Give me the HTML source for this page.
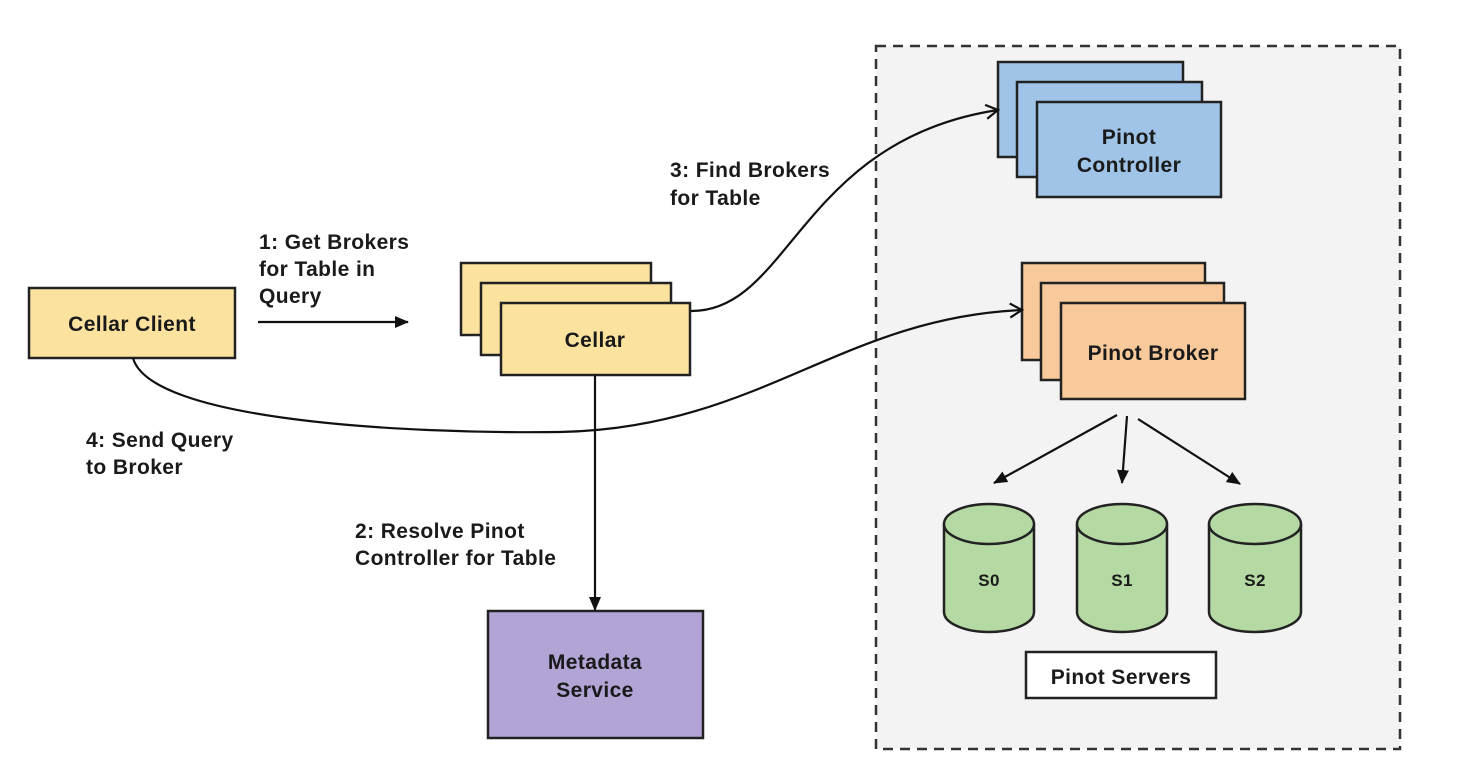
<!DOCTYPE html>
<html><head><meta charset="utf-8"><style>
body{margin:0;background:#fff;}
svg{display:block;}
text{font-family:"Liberation Sans",sans-serif;font-weight:bold;font-size:21px;letter-spacing:0.4px;fill:#1a1a1a;}
</style></head><body>
<svg width="1472" height="780" viewBox="0 0 1472 780" xmlns="http://www.w3.org/2000/svg">
<defs>
<marker id="a" markerWidth="14" markerHeight="12" refX="13" refY="6" orient="auto" markerUnits="userSpaceOnUse"><path d="M0,0 L14,6 L0,12 Z" fill="#111"/></marker>
<marker id="o" markerWidth="16" markerHeight="16" refX="14" refY="8" orient="auto" markerUnits="userSpaceOnUse"><path d="M2,1 L14,8 L2,15" fill="none" stroke="#111" stroke-width="2.2"/></marker>
</defs>
<rect x="876" y="46" width="524" height="703" fill="#f3f3f3" stroke="#333" stroke-width="2.5" stroke-dasharray="10,7"/>
<rect x="29" y="288" width="206" height="70" fill="#fbe29e" stroke="#222" stroke-width="2.5"/>
<text x="132" y="331" text-anchor="middle">Cellar Client</text>
<rect x="461" y="263" width="190" height="72" fill="#fbe29e" stroke="#222" stroke-width="2.5"/>
<rect x="481" y="283" width="190" height="72" fill="#fbe29e" stroke="#222" stroke-width="2.5"/>
<rect x="501" y="303" width="189" height="72" fill="#fbe29e" stroke="#222" stroke-width="2.5"/>
<text x="595" y="347" text-anchor="middle">Cellar</text>
<rect x="998" y="62" width="185" height="95" fill="#a0c4e8" stroke="#222" stroke-width="2.5"/>
<rect x="1017" y="82" width="185" height="95" fill="#a0c4e8" stroke="#222" stroke-width="2.5"/>
<rect x="1037" y="102" width="184" height="95" fill="#a0c4e8" stroke="#222" stroke-width="2.5"/>
<text x="1129" y="144" text-anchor="middle">Pinot</text>
<text x="1129" y="172" text-anchor="middle">Controller</text>
<rect x="1022" y="263" width="183" height="97" fill="#f8c99a" stroke="#222" stroke-width="2.5"/>
<rect x="1041" y="283" width="183" height="97" fill="#f8c99a" stroke="#222" stroke-width="2.5"/>
<rect x="1061" y="303" width="184" height="96" fill="#f8c99a" stroke="#222" stroke-width="2.5"/>
<text x="1153" y="360" text-anchor="middle">Pinot Broker</text>
<rect x="488" y="611" width="215" height="127" fill="#b3a4d6" stroke="#222" stroke-width="2.5"/>
<text x="595" y="669" text-anchor="middle">Metadata</text>
<text x="595" y="697" text-anchor="middle">Service</text>
<g stroke="#222" stroke-width="2.5" fill="#b4d9a3">
<path d="M944,524 L944,612 A45,20 0 0 0 1034,612 L1034,524"/>
<ellipse cx="989" cy="524" rx="45" ry="20"/>
<path d="M1077,524 L1077,612 A45,20 0 0 0 1167,612 L1167,524"/>
<ellipse cx="1122" cy="524" rx="45" ry="20"/>
<path d="M1209,524 L1209,612 A46,20 0 0 0 1301,612 L1301,524"/>
<ellipse cx="1255" cy="524" rx="46" ry="20"/>
</g>
<text x="989" y="586" text-anchor="middle" style="font-size:17px">S0</text>
<text x="1122" y="586" text-anchor="middle" style="font-size:17px">S1</text>
<text x="1255" y="586" text-anchor="middle" style="font-size:17px">S2</text>
<rect x="1026" y="652" width="190" height="46" fill="#fff" stroke="#222" stroke-width="2.5"/>
<text x="1121" y="684" text-anchor="middle">Pinot Servers</text>
<g stroke="#111" stroke-width="2.2" fill="none">
<line x1="258" y1="322" x2="408" y2="322" marker-end="url(#a)"/>
<line x1="595" y1="375" x2="595" y2="610" marker-end="url(#a)"/>
<line x1="1117" y1="415" x2="994" y2="483" marker-end="url(#a)"/>
<line x1="1127" y1="416" x2="1122" y2="483" marker-end="url(#a)"/>
<line x1="1138" y1="419" x2="1240" y2="484" marker-end="url(#a)"/>
<path d="M691,311 C790,312 800,140 998,110" marker-end="url(#o)"/>
<path d="M133,358 C150,420 400,434 560,432 C760,428 840,318 1022,310" marker-end="url(#o)"/>
</g>
<text x="259" y="249">1: Get Brokers</text>
<text x="259" y="276">for Table in</text>
<text x="259" y="303">Query</text>
<text x="670" y="177">3: Find Brokers</text>
<text x="670" y="205">for Table</text>
<text x="86" y="447">4: Send Query</text>
<text x="86" y="474">to Broker</text>
<text x="355" y="538">2: Resolve Pinot</text>
<text x="355" y="565">Controller for Table</text>
</svg>
</body></html>
